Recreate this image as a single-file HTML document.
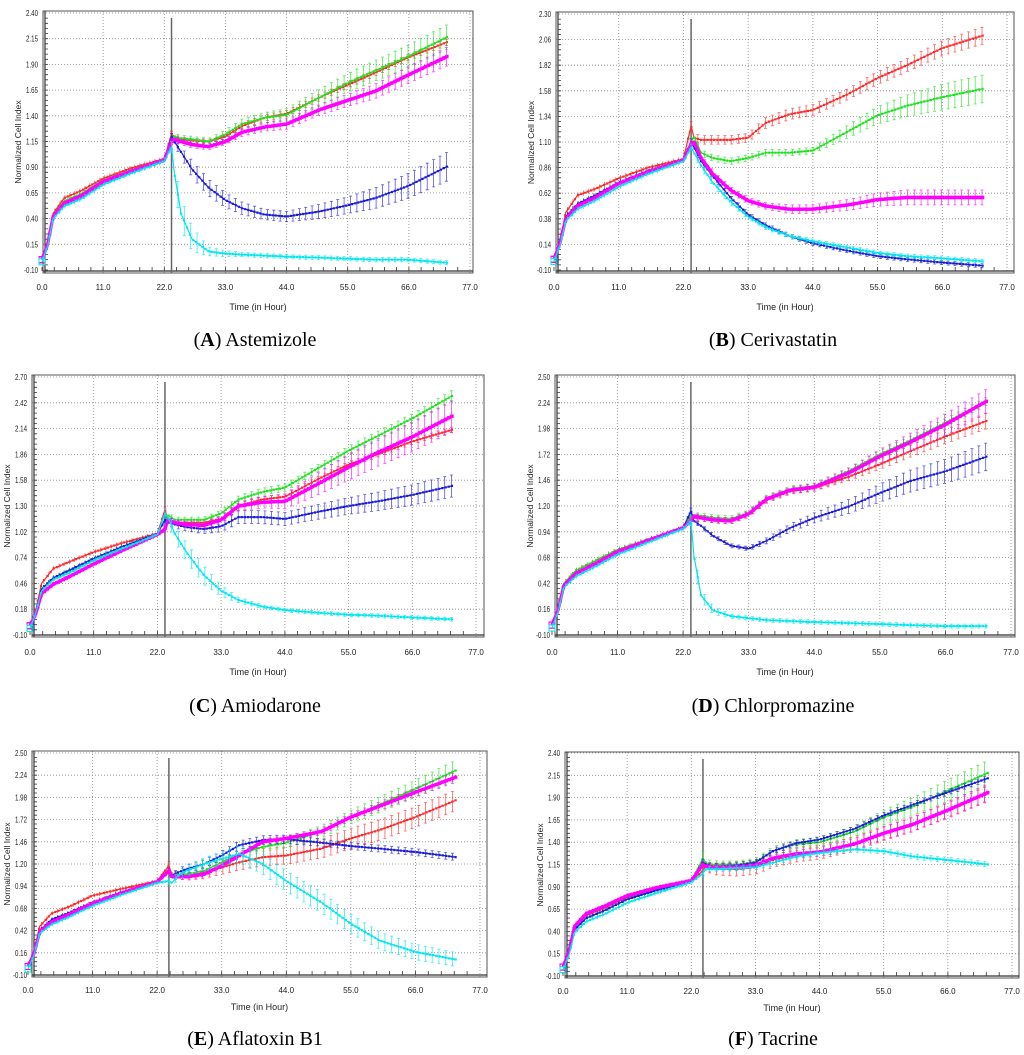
<!DOCTYPE html>
<html><head><meta charset="utf-8"><title>Cell index panels</title>
<style>
html,body{margin:0;padding:0;background:#fff;}
svg{display:block;}
text{font-family:"Liberation Sans",sans-serif;}
.cap{font-family:"Liberation Serif",serif;font-size:20px;fill:#000;}
</style></head>
<body>
<svg id="fig" width="1024" height="1055" viewBox="0 0 1024 1055" xmlns="http://www.w3.org/2000/svg"></svg>
<script>
// ---- shared time axes ----
const preTimes = [0,1,2,4,7,11,16,22];
const postTimesABCD = [23.3,23.8,25,27,30,33,36,40,44,50,55,60,66,73];
const postTimesEF = [24.0,24.5,25.5,27,30,33,36,40,44,50,55,60,66,73];
const xTickLabels = ["0.0","11.0","22.0","33.0","44.0","55.0","66.0","77.0"];

// ---- y tick labels ----
const yTicksA = ["-0.10","0.15","0.40","0.65","0.90","1.15","1.40","1.65","1.90","2.15","2.40"];
const yTicksB = ["-0.10","0.14","0.38","0.62","0.86","1.10","1.34","1.58","1.82","2.06","2.30"];
const yTicksC = ["-0.10","0.18","0.46","0.74","1.02","1.30","1.58","1.86","2.14","2.42","2.70"];
const yTicksD = ["-0.10","0.16","0.42","0.68","0.94","1.20","1.46","1.72","1.98","2.24","2.50"];
const yTicksE = ["-0.10","0.16","0.42","0.68","0.94","1.20","1.46","1.72","1.98","2.24","2.50"];
const yTicksF = ["-0.10","0.15","0.40","0.65","0.90","1.15","1.40","1.65","1.90","2.15","2.40"];

// ---- Panel A: Astemizole ----
const A_red_pre = [0,0.17,0.45,0.60,0.67,0.79,0.89,0.98];
const A_green_pre = [0,0.16,0.43,0.57,0.64,0.77,0.87,0.97];
const A_mag_pre = [0,0.15,0.42,0.55,0.62,0.76,0.86,0.97];
const A_blue_pre = [0,0.15,0.41,0.54,0.61,0.75,0.85,0.96];
const A_cyan_pre = [-0.02,0.13,0.40,0.52,0.59,0.73,0.84,0.96];
const A_red = [1.22,1.20,1.17,1.16,1.15,1.20,1.30,1.38,1.42,1.58,1.70,1.82,1.97,2.12];
const A_green = [1.18,1.20,1.18,1.17,1.15,1.22,1.32,1.38,1.41,1.58,1.72,1.84,1.98,2.17];
const A_mag = [1.15,1.17,1.15,1.12,1.10,1.15,1.24,1.29,1.32,1.46,1.55,1.64,1.80,1.98];
const A_blue = [1.20,1.15,1.05,0.88,0.70,0.58,0.50,0.44,0.42,0.47,0.53,0.60,0.72,0.91];
const A_cyan = [1.10,0.85,0.45,0.20,0.08,0.06,0.05,0.04,0.03,0.02,0.01,0.00,0.00,-0.03];
const A_red_err = [0.03,0.02,0.02,0.02,0.02,0.02,0.03,0.03,0.03,0.03,0.03,0.03,0.03,0.03];
const A_green_err = [0.03,0.03,0.03,0.03,0.03,0.04,0.05,0.05,0.06,0.08,0.09,0.10,0.11,0.12];
const A_mag_err = [0.03,0.03,0.03,0.03,0.03,0.03,0.04,0.04,0.05,0.05,0.06,0.07,0.08,0.09];
const A_blue_err = [0.03,0.03,0.05,0.08,0.08,0.07,0.06,0.05,0.05,0.07,0.08,0.10,0.12,0.14];
const A_cyan_err = [0.05,0.10,0.15,0.12,0.04,0.03,0.02,0.02,0.02,0.02,0.02,0.02,0.02,0.02];

// ---- Panel B: Cerivastatin ----
const B_red_pre = [0,0.17,0.44,0.60,0.66,0.76,0.86,0.94];
const B_green_pre = [0,0.15,0.40,0.52,0.60,0.72,0.83,0.93];
const B_mag_pre = [0,0.15,0.38,0.50,0.58,0.71,0.82,0.93];
const B_blue_pre = [0,0.15,0.40,0.52,0.60,0.72,0.83,0.93];
const B_cyan_pre = [-0.02,0.13,0.36,0.47,0.55,0.68,0.80,0.92];
const B_red = [1.25,1.14,1.12,1.12,1.12,1.14,1.28,1.36,1.40,1.55,1.70,1.82,1.98,2.10];
const B_green = [1.10,1.15,1.00,0.95,0.92,0.95,1.00,1.00,1.02,1.20,1.35,1.44,1.52,1.60];
const B_mag = [1.08,1.10,0.95,0.80,0.65,0.55,0.50,0.47,0.47,0.51,0.56,0.58,0.58,0.58];
const B_blue = [1.10,1.05,0.92,0.78,0.58,0.42,0.32,0.22,0.15,0.08,0.03,0.00,-0.03,-0.06];
const B_cyan = [1.05,1.00,0.88,0.72,0.54,0.40,0.30,0.22,0.17,0.11,0.06,0.03,0.01,-0.02];
const B_red_err = [0.04,0.04,0.04,0.04,0.04,0.04,0.05,0.05,0.05,0.05,0.06,0.06,0.07,0.08];
const B_green_err = [0.04,0.03,0.03,0.03,0.03,0.03,0.03,0.03,0.03,0.06,0.08,0.10,0.12,0.13];
const B_mag_err = [0.03,0.03,0.03,0.03,0.03,0.03,0.03,0.04,0.04,0.05,0.06,0.07,0.07,0.07];
const B_blue_err = [0.03,0.03,0.02,0.02,0.02,0.02,0.02,0.02,0.02,0.02,0.02,0.02,0.02,0.02];
const B_cyan_err = [0.03,0.03,0.03,0.03,0.03,0.02,0.02,0.02,0.02,0.02,0.02,0.02,0.02,0.02];

// ---- Panel C: Amiodarone ----
const C_red_pre = [0,0.17,0.46,0.62,0.70,0.80,0.90,1.00];
const C_green_pre = [0,0.15,0.40,0.52,0.60,0.73,0.86,1.00];
const C_mag_pre = [0,0.13,0.35,0.45,0.54,0.67,0.82,0.99];
const C_blue_pre = [0,0.15,0.40,0.52,0.61,0.73,0.86,1.00];
const C_cyan_pre = [-0.03,0.14,0.38,0.50,0.58,0.71,0.84,0.99];
const C_red = [1.26,1.15,1.12,1.12,1.12,1.16,1.30,1.37,1.40,1.60,1.75,1.86,2.00,2.13];
const C_green = [1.15,1.20,1.15,1.15,1.15,1.22,1.37,1.45,1.50,1.72,1.90,2.06,2.25,2.50];
const C_mag = [1.05,1.15,1.12,1.10,1.09,1.15,1.30,1.34,1.35,1.55,1.72,1.88,2.05,2.28];
const C_blue = [1.15,1.12,1.10,1.07,1.05,1.08,1.18,1.18,1.16,1.24,1.30,1.35,1.42,1.52];
const C_cyan = [1.22,1.18,1.00,0.80,0.55,0.38,0.28,0.21,0.17,0.14,0.12,0.11,0.09,0.07];
const C_red_err = [0.03,0.03,0.03,0.03,0.03,0.03,0.03,0.03,0.03,0.03,0.03,0.03,0.03,0.03];
const C_green_err = [0.03,0.03,0.03,0.03,0.03,0.03,0.04,0.04,0.04,0.04,0.05,0.05,0.05,0.06];
const C_mag_err = [0.03,0.03,0.03,0.03,0.03,0.04,0.05,0.06,0.08,0.12,0.14,0.15,0.16,0.17];
const C_blue_err = [0.03,0.03,0.04,0.04,0.05,0.06,0.07,0.07,0.07,0.08,0.09,0.10,0.11,0.12];
const C_cyan_err = [0.05,0.05,0.08,0.10,0.10,0.06,0.03,0.02,0.02,0.02,0.02,0.02,0.02,0.02];

// ---- Panel D: Chlorpromazine ----
const D_red_pre = [0,0.16,0.42,0.55,0.64,0.76,0.86,0.98];
const D_green_pre = [0,0.16,0.42,0.55,0.64,0.76,0.86,0.98];
const D_mag_pre = [0,0.15,0.40,0.52,0.61,0.74,0.85,0.98];
const D_blue_pre = [0,0.15,0.40,0.52,0.61,0.74,0.85,0.98];
const D_cyan_pre = [-0.03,0.13,0.38,0.49,0.58,0.71,0.83,0.97];
const D_red = [1.10,1.08,1.08,1.06,1.05,1.12,1.26,1.35,1.38,1.50,1.62,1.75,1.90,2.06];
const D_green = [1.12,1.10,1.10,1.08,1.07,1.13,1.28,1.37,1.40,1.56,1.72,1.86,2.04,2.26];
const D_mag = [1.05,1.10,1.08,1.06,1.05,1.12,1.27,1.36,1.39,1.54,1.70,1.84,2.02,2.26];
const D_blue = [1.15,1.05,1.00,0.90,0.80,0.77,0.85,0.98,1.08,1.20,1.33,1.45,1.55,1.70];
const D_cyan = [1.05,0.70,0.30,0.15,0.09,0.07,0.05,0.04,0.03,0.02,0.01,0.00,-0.01,-0.01];
const D_red_err = [0.03,0.03,0.03,0.03,0.03,0.03,0.03,0.03,0.03,0.04,0.05,0.06,0.07,0.08];
const D_green_err = [0.03,0.03,0.03,0.03,0.03,0.03,0.03,0.03,0.03,0.03,0.04,0.04,0.04,0.04];
const D_mag_err = [0.03,0.03,0.03,0.03,0.03,0.03,0.03,0.03,0.04,0.05,0.07,0.09,0.11,0.12];
const D_blue_err = [0.03,0.02,0.02,0.02,0.02,0.02,0.03,0.04,0.05,0.07,0.09,0.11,0.12,0.14];
const D_cyan_err = [0.05,0.08,0.06,0.04,0.02,0.02,0.02,0.02,0.02,0.02,0.02,0.02,0.02,0.02];

// ---- Panel E: Aflatoxin B1 ----
const E_red_pre = [0,0.17,0.47,0.62,0.70,0.83,0.91,1.00];
const E_green_pre = [0,0.15,0.42,0.53,0.62,0.75,0.87,0.99];
const E_mag_pre = [0,0.15,0.41,0.52,0.61,0.74,0.86,0.99];
const E_blue_pre = [0,0.15,0.42,0.55,0.63,0.75,0.87,0.99];
const E_cyan_pre = [-0.03,0.13,0.39,0.49,0.58,0.71,0.84,0.98];
const E_red = [1.18,1.08,1.07,1.06,1.10,1.16,1.22,1.28,1.30,1.38,1.50,1.60,1.75,1.95];
const E_green = [1.10,1.06,1.08,1.08,1.12,1.22,1.32,1.40,1.45,1.58,1.75,1.90,2.08,2.30];
const E_mag = [1.12,1.05,1.05,1.05,1.08,1.18,1.30,1.46,1.50,1.58,1.75,1.88,2.04,2.22];
const E_blue = [1.12,1.06,1.10,1.14,1.20,1.30,1.42,1.48,1.49,1.45,1.41,1.38,1.34,1.28];
const E_cyan = [1.00,0.98,1.06,1.12,1.20,1.26,1.32,1.20,1.00,0.75,0.50,0.30,0.17,0.08];
const E_red_err = [0.05,0.04,0.04,0.05,0.07,0.08,0.09,0.10,0.10,0.11,0.12,0.12,0.12,0.12];
const E_green_err = [0.03,0.03,0.03,0.03,0.04,0.04,0.05,0.05,0.06,0.07,0.08,0.09,0.10,0.12];
const E_mag_err = [0.03,0.03,0.03,0.03,0.03,0.03,0.03,0.03,0.03,0.04,0.04,0.05,0.05,0.06];
const E_blue_err = [0.03,0.03,0.04,0.05,0.05,0.05,0.05,0.05,0.05,0.04,0.04,0.04,0.04,0.04];
const E_cyan_err = [0.04,0.04,0.05,0.06,0.07,0.08,0.10,0.12,0.12,0.12,0.11,0.10,0.09,0.08];

// ---- Panel F: Tacrine ----
const F_red_pre = [0,0.16,0.45,0.58,0.66,0.78,0.87,0.96];
const F_green_pre = [0,0.15,0.42,0.55,0.63,0.76,0.86,0.96];
const F_mag_pre = [0,0.17,0.46,0.60,0.68,0.80,0.89,0.97];
const F_blue_pre = [0,0.15,0.42,0.55,0.63,0.76,0.86,0.96];
const F_cyan_pre = [-0.03,0.13,0.39,0.51,0.59,0.72,0.83,0.95];
const F_red = [1.08,1.14,1.10,1.10,1.10,1.12,1.20,1.26,1.29,1.38,1.50,1.60,1.76,1.95];
const F_green = [1.22,1.17,1.15,1.15,1.15,1.18,1.30,1.38,1.40,1.52,1.68,1.80,1.98,2.18];
const F_mag = [1.15,1.13,1.12,1.12,1.12,1.14,1.22,1.27,1.29,1.38,1.50,1.60,1.76,1.96];
const F_blue = [1.18,1.15,1.13,1.13,1.14,1.17,1.30,1.39,1.43,1.55,1.70,1.82,1.96,2.12];
const F_cyan = [1.05,1.10,1.10,1.10,1.11,1.12,1.17,1.24,1.28,1.32,1.30,1.24,1.20,1.15];
const F_red_err = [0.05,0.05,0.06,0.07,0.08,0.08,0.08,0.08,0.08,0.08,0.08,0.08,0.08,0.08];
const F_green_err = [0.08,0.05,0.04,0.04,0.04,0.04,0.05,0.05,0.05,0.06,0.08,0.10,0.12,0.14];
const F_mag_err = [0.03,0.03,0.03,0.03,0.03,0.03,0.04,0.04,0.05,0.06,0.07,0.08,0.09,0.10];
const F_blue_err = [0.03,0.03,0.03,0.03,0.03,0.03,0.03,0.03,0.03,0.03,0.03,0.03,0.03,0.03];
const F_cyan_err = [0.04,0.03,0.03,0.03,0.03,0.03,0.03,0.03,0.03,0.03,0.03,0.03,0.03,0.03];

// ---- layout (not data) ----
const NS = "http://www.w3.org/2000/svg";
const svg = document.getElementById('fig');
const colors = {red:"#ff2a2a", green:"#1fe01f", mag:"#ff00ff", blue:"#1c1cd8", cyan:"#00e6f0"};
const panels = [
 {id:"a", letter:"A", name:"Astemizole", L:43,T:11,R:473,B:273, x0:42,x1:470, y0:270,y1:13, yt:yTicksA, drug:23.3, post:postTimesABCD, lx:287, tt:307, cy:346, cx:255,
  s:{red:[A_red_pre,A_red,A_red_err],green:[A_green_pre,A_green,A_green_err],mag:[A_mag_pre,A_mag,A_mag_err],blue:[A_blue_pre,A_blue,A_blue_err],cyan:[A_cyan_pre,A_cyan,A_cyan_err]}},
 {id:"b", letter:"B", name:"Cerivastatin", L:556,T:12,R:1014,B:273, x0:554,x1:1007, y0:270,y1:14, yt:yTicksB, drug:23.3, post:postTimesABCD, lx:287, tt:307, cy:346, cx:773,
  s:{red:[B_red_pre,B_red,B_red_err],green:[B_green_pre,B_green,B_green_err],mag:[B_mag_pre,B_mag,B_mag_err],blue:[B_blue_pre,B_blue,B_blue_err],cyan:[B_cyan_pre,B_cyan,B_cyan_err]}},
 {id:"c", letter:"C", name:"Amiodarone", L:32,T:375,R:484,B:637, x0:30,x1:476, y0:635,y1:377, yt:yTicksC, drug:23.3, post:postTimesABCD, lx:652, tt:672, cy:712, cx:255,
  s:{red:[C_red_pre,C_red,C_red_err],green:[C_green_pre,C_green,C_green_err],mag:[C_mag_pre,C_mag,C_mag_err],blue:[C_blue_pre,C_blue,C_blue_err],cyan:[C_cyan_pre,C_cyan,C_cyan_err]}},
 {id:"d", letter:"D", name:"Chlorpromazine", L:555,T:375,R:1015,B:637, x0:552,x1:1011, y0:635,y1:377, yt:yTicksD, drug:23.3, post:postTimesABCD, lx:652, tt:672, cy:712, cx:773,
  s:{red:[D_red_pre,D_red,D_red_err],green:[D_green_pre,D_green,D_green_err],mag:[D_mag_pre,D_mag,D_mag_err],blue:[D_blue_pre,D_blue,D_blue_err],cyan:[D_cyan_pre,D_cyan,D_cyan_err]}},
 {id:"e", letter:"E", name:"Aflatoxin B1", L:32,T:751,R:487,B:977, x0:28,x1:480, y0:975,y1:753, yt:yTicksE, drug:24.0, post:postTimesEF, lx:990, tt:1007, cy:1045, cx:255,
  s:{red:[E_red_pre,E_red,E_red_err],green:[E_green_pre,E_green,E_green_err],mag:[E_mag_pre,E_mag,E_mag_err],blue:[E_blue_pre,E_blue,E_blue_err],cyan:[E_cyan_pre,E_cyan,E_cyan_err]}},
 {id:"f", letter:"F", name:"Tacrine", L:565,T:752,R:1019,B:978, x0:563,x1:1012, y0:976,y1:753, yt:yTicksF, drug:24.0, post:postTimesEF, lx:991, tt:1008, cy:1045, cx:773,
  s:{red:[F_red_pre,F_red,F_red_err],green:[F_green_pre,F_green,F_green_err],mag:[F_mag_pre,F_mag,F_mag_err],blue:[F_blue_pre,F_blue,F_blue_err],cyan:[F_cyan_pre,F_cyan,F_cyan_err]}}
];

function mk(tag, attrs, parent){
  const e = document.createElementNS(NS, tag);
  for (const k in attrs) e.setAttribute(k, attrs[k]);
  (parent||svg).appendChild(e);
  return e;
}
function interp(ts, vs, t){
  if (t<=ts[0]) return vs[0];
  for (let i=1;i<ts.length;i++){ if (t<=ts[i]){ const f=(t-ts[i-1])/(ts[i]-ts[i-1]); return vs[i-1]+f*(vs[i]-vs[i-1]); } }
  return vs[vs.length-1];
}

panels.forEach(p=>{
  const g = mk('g',{});
  
  
  const ymin=parseFloat(p.yt[0]), ymax=parseFloat(p.yt[p.yt.length-1]);
  const X = t => p.x0 + (t/77)*(p.x1-p.x0);
  const Y = v => p.y0 - (v-ymin)/(ymax-ymin)*(p.y0-p.y1);

  const grid = mk('g',{stroke:"#8a8a8a","stroke-width":0.8,"stroke-dasharray":"1,2"},g);
  
  
  for (let i=1;i<xTickLabels.length;i++){ const x=X(parseFloat(xTickLabels[i])); mk('line',{x1:x,x2:x,y1:p.T,y2:p.B},grid); }
  for (let i=1;i<p.yt.length;i++){ const y=Y(parseFloat(p.yt[i])); mk('line',{x1:p.L,x2:p.R,y1:y,y2:y},grid); }

  const fr = mk('rect',{x:p.L,y:p.T,width:p.R-p.L,height:p.B-p.T,fill:"none",stroke:"#555","stroke-width":1},g);
  
  
  mk('line',{x1:p.L+2,x2:p.L+2,y1:p.T,y2:p.B,stroke:"#333","stroke-width":1.2},g);
  mk('line',{x1:p.L,x2:p.R,y1:p.B-2,y2:p.B-2,stroke:"#333","stroke-width":1.2},g);
  let tk="";
  for (let t=0;t<=77;t+=2.2){ const x=X(t); tk+=`M${x.toFixed(1)} ${p.B-2}v-4`; }
  for (let i=0;i<50;i++){ const y=p.y0-(p.y0-p.y1)*i/50; tk+=`M${p.L+2} ${y.toFixed(1)}h3`; }
  mk('path',{d:tk,stroke:"#333","stroke-width":0.8,fill:"none"},g);

  p.yt.forEach(l=>{
    const t = mk('text',{x:p.L-5,y:Y(parseFloat(l))+3,"font-size":8,"text-anchor":"end",fill:"#222","textLength":l.length>4?14:12,"lengthAdjust":"spacingAndGlyphs"},g);
    t.textContent=l;
    
    
  });
  xTickLabels.forEach(l=>{
    const t = mk('text',{x:X(parseFloat(l)),y:p.lx+3,"font-size":8,"text-anchor":"middle",fill:"#222"},g);
    t.textContent=l;
    
    
  });
  const yt = mk('text',{x:0,y:0,"font-size":8.5,"text-anchor":"middle",fill:"#222",transform:`translate(${p.L-22},${(p.T+p.B)/2}) rotate(-90)`},g);
  yt.textContent="Normalized Cell Index";
  
  
  const xt = mk('text',{x:(p.L+p.R)/2,y:p.tt+3,"font-size":9,"text-anchor":"middle",fill:"#222"},g);
  xt.textContent="Time (in Hour)";
  
  

  const dl = mk('line',{x1:X(p.drug),x2:X(p.drug),y1:p.T+7,y2:p.B,stroke:"#666","stroke-width":1.5},g);
  
  

  ["red","green","blue","mag","cyan"].forEach(k=>{
    const [pre,post,err] = p.s[k];
    const ts = preTimes.concat(p.post), vs = pre.concat(post);
    const sg = mk('g',{},g);
    
    
    let eb="";
    const t0=p.post[0];
    for (let t=t0;t<=73.01;t+=1.15){
      const v=interp(ts,vs,t), e=interp(p.post,err,t);
      const x=X(t), ya=Y(v+e), yb=Y(v-e);
      eb+=`M${x.toFixed(1)} ${ya.toFixed(1)}V${yb.toFixed(1)}M${(x-1.5).toFixed(1)} ${ya.toFixed(1)}h3M${(x-1.5).toFixed(1)} ${yb.toFixed(1)}h3`;
    }
    for (let t=0.5;t<t0;t+=0.9){
      const v=interp(ts,vs,t), x=X(t);
      eb+=`M${x.toFixed(1)} ${Y(v+0.025).toFixed(1)}V${Y(v-0.025).toFixed(1)}`;
    }
    mk('path',{d:eb,stroke:colors[k],"stroke-width":0.8,fill:"none",opacity:0.75},sg);
    const pts = ts.map((t,i)=>X(t).toFixed(1)+","+Y(vs[i]).toFixed(1)).join(" ");
    mk('polyline',{points:pts,fill:"none",stroke:colors[k],"stroke-width":k==="mag"?3.2:1.2,"stroke-linejoin":"round"},sg);
    let mp="";
    const s = k==="mag"?3.4:2.2;
    for (let t=0.25;t<=73.01;t+=0.55){
      const x=X(t), y=Y(interp(ts,vs,t));
      mp+=`M${(x-s/2).toFixed(1)} ${(y-s/2).toFixed(1)}h${s}v${s}h-${s}z`;
    }
    mk('path',{d:mp,fill:colors[k]},sg);
    mk('rect',{x:X(0)-3,y:Y(vs[0])-3,width:6,height:6,fill:"none",stroke:colors[k],"stroke-width":1},sg);
  });

  const cap = mk('text',{x:p.cx,y:p.cy,"text-anchor":"middle",class:"cap"},svg);
  
  
  cap.innerHTML = `(<tspan font-weight="bold">${p.letter}</tspan>) ${p.name}`;
});
</script>
</body></html>
